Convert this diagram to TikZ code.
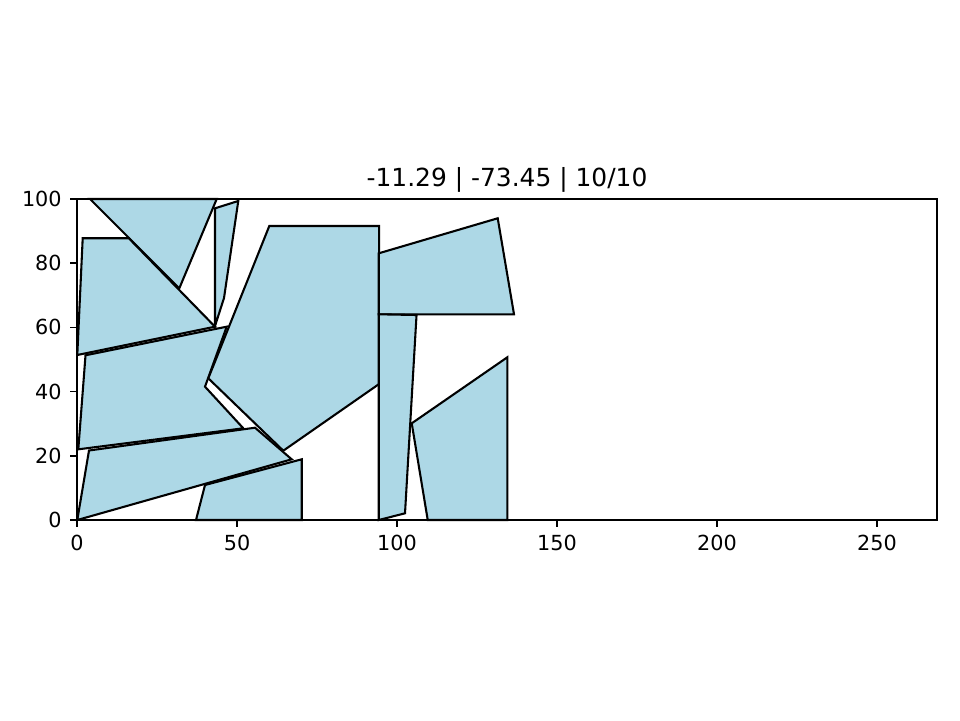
\documentclass[tikz,border=0pt]{standalone}
\usepackage{fontspec}
\setmainfont{DejaVu Sans}
\definecolor{lightblue}{HTML}{ADD8E6}
\begin{document}
\begin{tikzpicture}[x=0.48bp,y=0.48bp,line join=miter,
        piece/.style={fill=lightblue,draw=black,line width=1pt},
        spine/.style={line width=0.8pt},
        ticklab/.style={font=\fontsize{10}{12}\selectfont,inner sep=0pt}]
    \useasboundingbox (0,0) rectangle (960,720);
    \begin{scope}[shift={(77,200)},x=1.536bp,y=1.5408bp]
        \draw[piece] (4.06,100)--(43.66,100)--(31.97,72.18)--cycle;
        \draw[piece] (1.78,87.76)--(16.2,87.76)--(43.13,60.22)--(0.09,51.40)--cycle;
        \draw[piece] (43.13,97.1)--(50.4,99.38)--(45.94,69.16)--(43.13,60.44)--cycle;
        \draw[piece] (60.09,91.59)--(94.4,91.59)--(94.4,42.37)--(64.47,21.59)--(41.03,44.14)--cycle;
        \draw[piece] (2.66,51.31)--(46.78,60.22)--(40,41.53)--(51.97,28.57)--(0.41,22.02)--cycle;
        \draw[piece] (0.09,0)--(3.75,21.65)--(55.63,28.75)--(67.09,18.91)--cycle;
        \draw[piece] (37.19,0)--(40,10.9)--(70.22,18.91)--(70.22,0)--cycle;
        \draw[piece] (94.3,83.08)--(131.47,93.99)--(136.56,64.08)--(94.3,64.08)--cycle;
        \draw[piece] (94.3,64.08)--(106.1,63.86)--(102.5,2.09)--(94.3,0)--cycle;
        \draw[piece] (104.6,30.12)--(134.47,50.69)--(134.47,0)--(109.6,0)--cycle;
        % axes frame and ticks
        \draw[spine] (0,0) rectangle (268.75,100);
        \foreach \x in {0,50,...,250}
        \draw[spine] (\x,0)--++(0,-3.5pt) node[ticklab,below=3.5pt] (xt\x) {\x};
        \foreach \y in {0,20,...,100}
        \draw[spine] (0,\y)--++(-3.5pt,0) node[ticklab,left=3.5pt] (yt\y) {\y};
        \node[font=\fontsize{12}{14}\selectfont,inner sep=0pt,above=3pt] (title) at (134.375,100) {-11.29 | -73.45 | 10/10};
    \end{scope}
\end{tikzpicture}
\end{document}
